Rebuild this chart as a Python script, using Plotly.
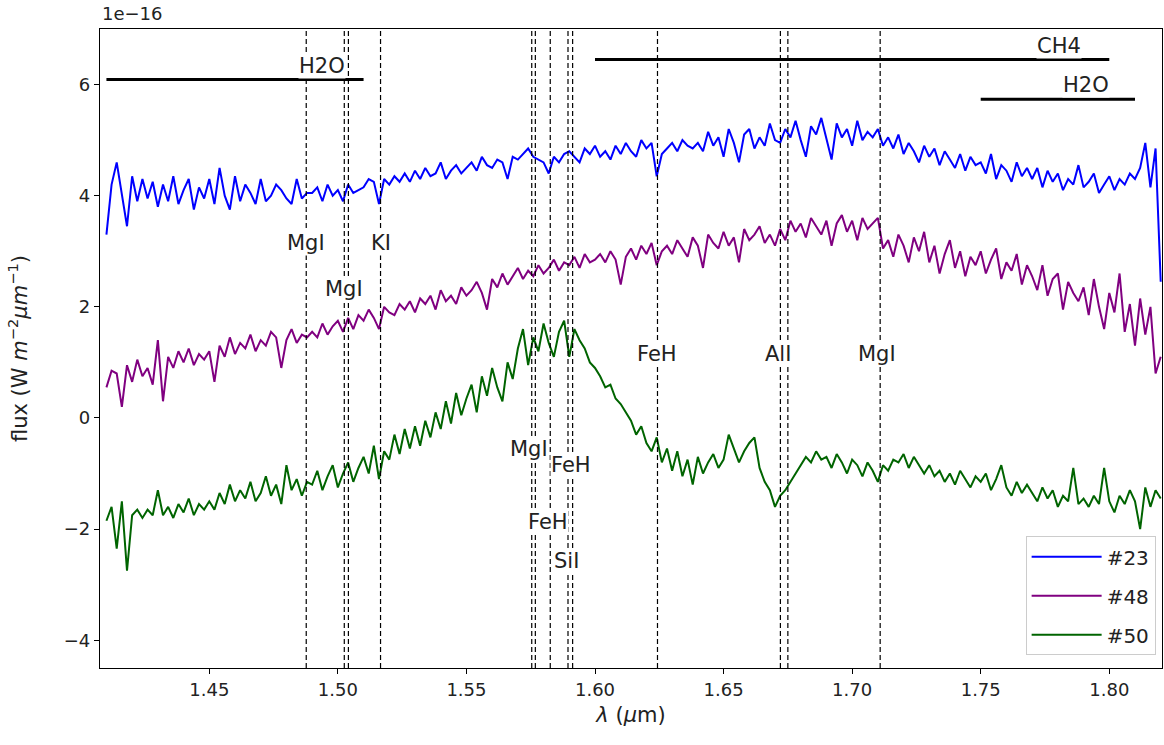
import numpy as np
import plotly.graph_objects as go

# wavelength grid (micron)
wavelength = np.round(np.linspace(1.410, 1.820, 206), 3)

# flux in units of 1e-16 W m^-2 um^-1
flux_23 = [
    3.3, 4.2, 4.6, 4.0, 3.45, 4.35, 3.9, 4.3, 3.95, 4.25,
    3.8, 4.2, 3.9, 4.35, 3.85, 4.1, 4.3, 3.75, 4.15, 3.95,
    4.3, 3.85, 4.5, 4.0, 3.75, 4.35, 3.9, 4.2, 4.05, 3.85,
    4.3, 3.9, 4.0, 4.2, 4.1, 3.95, 3.85, 4.3, 3.95, 4.05,
    4.05, 4.15, 3.9, 4.2, 4.0, 4.1, 3.9, 4.2, 4.05, 4.1,
    4.15, 4.3, 4.25, 3.85, 4.3, 4.2, 4.35, 4.25, 4.4, 4.25,
    4.45, 4.3, 4.5, 4.35, 4.4, 4.6, 4.3, 4.45, 4.55, 4.4,
    4.5, 4.6, 4.45, 4.7, 4.55, 4.5, 4.65, 4.6, 4.3, 4.7,
    4.65, 4.75, 4.85, 4.7, 4.65, 4.6, 4.4, 4.7, 4.6, 4.75,
    4.8, 4.7, 4.6, 4.85, 4.75, 4.9, 4.7, 4.8, 4.65, 4.9,
    4.75, 4.95, 4.8, 4.7, 5.0, 4.85, 4.95, 4.35, 4.75, 4.85,
    4.95, 4.8, 5.0, 4.9, 4.85, 4.95, 4.8, 5.15, 4.9, 5.05,
    4.7, 5.2, 4.95, 4.6, 5.1, 5.2, 4.85, 5.05, 4.9, 5.3,
    5.0, 4.95, 5.2, 5.05, 5.35, 5.0, 4.7, 5.25, 5.1, 5.4,
    5.0, 4.65, 5.3, 5.05, 5.2, 4.9, 5.35, 5.0, 5.15, 5.05,
    5.2, 4.9, 5.05, 4.85, 5.1, 4.75, 4.95, 4.8, 4.6, 4.9,
    4.7, 4.85, 4.55, 4.8, 4.65, 4.5, 4.75, 4.45, 4.7, 4.55,
    4.6, 4.4, 4.75, 4.3, 4.55, 4.45, 4.25, 4.6, 4.35, 4.5,
    4.3, 4.5, 4.15, 4.45, 4.25, 4.4, 4.1, 4.3, 4.2, 4.55,
    4.15, 4.25, 4.4, 4.05, 4.2, 4.35, 4.1, 4.3, 4.2, 4.4,
    4.3, 4.5, 4.95, 4.15, 4.85, 2.45,
]

flux_48 = [
    0.55, 0.85, 0.8, 0.2, 0.95, 0.65, 1.05, 0.75, 0.9, 0.6,
    1.4, 0.3, 1.1, 0.9, 1.2, 1.0, 1.25, 0.95, 1.15, 1.05,
    1.2, 0.65, 1.3, 1.1, 1.45, 1.15, 1.35, 1.25, 1.5, 1.2,
    1.4, 1.3, 1.55, 1.45, 0.9, 1.4, 1.6, 1.35, 1.5, 1.45,
    1.55, 1.45, 1.7, 1.5, 1.65, 1.75, 1.55, 1.8, 1.6, 1.85,
    1.75, 1.95, 1.8, 1.6, 2.0, 1.9, 1.85, 2.05, 1.95, 2.1,
    1.9, 2.15, 2.05, 2.2, 1.95, 2.3, 2.1, 2.2, 2.05, 2.35,
    2.2, 2.3, 2.45, 2.25, 1.95, 2.5, 2.35, 2.6, 2.4, 2.55,
    2.7, 2.5, 2.65, 2.55, 2.75, 2.6, 2.7, 2.85, 2.65, 2.8,
    2.75, 2.9, 2.7, 2.95, 2.8, 2.85, 2.95, 2.8, 3.0, 2.85,
    2.4, 2.9, 3.05, 2.85, 3.1, 2.95, 3.15, 2.75, 3.0, 3.1,
    2.95, 3.2, 3.05, 2.9, 3.25, 3.1, 2.7, 3.3, 3.15, 3.05,
    3.35, 3.1, 3.25, 2.8, 3.4, 3.2, 3.3, 3.45, 3.15, 3.3,
    3.1, 3.4, 3.2, 3.55, 3.35, 3.5, 3.25, 3.6, 3.45, 3.3,
    3.55, 3.1, 3.5, 3.65, 3.35, 3.55, 3.2, 3.6, 3.4, 3.5,
    3.6, 3.05, 3.2, 2.9, 3.3, 3.1, 2.8, 3.25, 3.0, 3.35,
    2.8, 3.1, 2.6, 2.95, 3.2, 2.7, 3.0, 2.55, 2.9, 2.75,
    3.0, 2.6, 2.85, 3.05, 2.5, 2.8, 2.65, 2.95, 2.4, 2.75,
    2.55, 2.3, 2.75, 2.2, 2.5, 2.6, 1.95, 2.45, 2.25, 2.1,
    2.35, 1.85, 2.5, 2.0, 1.6, 2.25, 1.9, 2.6, 1.55, 2.05,
    1.3, 2.15, 1.5, 2.0, 0.8, 1.1,
]

flux_50 = [
    -1.85, -1.6, -2.35, -1.5, -2.75, -1.75, -1.65, -1.8, -1.65, -1.75,
    -1.3, -1.75, -1.6, -1.8, -1.55, -1.7, -1.45, -1.75, -1.55, -1.65,
    -1.5, -1.65, -1.35, -1.55, -1.2, -1.5, -1.3, -1.45, -1.15, -1.5,
    -1.35, -1.05, -1.4, -1.2, -1.55, -0.85, -1.3, -1.1, -1.4, -1.15,
    -1.2, -0.95, -1.3, -1.05, -0.85, -1.25, -1.0, -0.8, -1.15, -0.9,
    -0.7, -1.0, -0.5, -1.1, -0.6, -0.75, -0.3, -0.65, -0.2, -0.55,
    -0.15, -0.5, -0.05, -0.35, 0.1, -0.2, 0.3, -0.1, 0.45, 0.05,
    0.35, 0.6, 0.1, 0.75, 0.4, 0.9, 0.55, 0.3, 1.0, 0.7,
    1.25, 1.6, 0.95, 1.45, 1.2, 1.7, 1.35, 1.1, 1.55, 1.75,
    1.1, 1.6, 1.4, 1.25, 1.0, 0.9, 0.75, 0.55, 0.6, 0.35,
    0.25, 0.1, -0.05, -0.3, -0.15, -0.45, -0.6, -0.35, -0.8, -0.55,
    -0.95, -0.6, -1.05, -0.75, -1.2, -0.7, -1.0, -0.8, -0.65, -0.9,
    -0.75, -0.3, -0.55, -0.8, -0.6, -0.45, -0.35, -0.9, -1.15, -1.3,
    -1.6, -1.4, -1.3, -1.15, -1.0, -0.85, -0.7, -0.8, -0.6, -0.75,
    -0.7, -0.9, -0.65, -0.8, -1.0, -0.75, -0.85, -1.05, -0.8, -0.95,
    -1.15, -0.85, -0.95, -0.75, -0.8, -0.65, -0.9, -0.7, -0.85, -1.0,
    -0.85, -1.05, -0.95, -1.15, -1.0, -1.2, -0.95, -1.1, -1.25, -1.05,
    -1.15, -1.0, -1.3, -1.1, -0.85, -1.25, -1.4, -1.15, -1.35, -1.2,
    -1.35, -1.5, -1.25, -1.45, -1.3, -1.6, -1.4, -1.5, -0.9, -1.55,
    -1.45, -1.6, -1.4, -1.55, -0.9, -1.5, -1.7, -1.4, -1.55, -1.3,
    -1.5, -2.0, -1.25, -1.6, -1.3, -1.45,
]

series_names = ["#23", "#48", "#50"]
series_colors = ["blue", "purple", "darkgreen"]

# spectral line markers
line_wavelengths = [1.4877, 1.5025, 1.5041, 1.5166, 1.5754, 1.5768, 1.5826,
                    1.5895, 1.5913, 1.6243, 1.6721, 1.6750, 1.7109]
label_names = ["MgI", "MgI", "KI", "MgI", "FeH", "FeH", "SiI", "FeH", "AlI", "MgI"]
label_x = [1.4877, 1.5025, 1.5166, 1.5745, 1.5908, 1.5819, 1.5889, 1.6243, 1.6713, 1.7098]
label_y = [3.15, 2.32, 3.15, -0.56, -0.85, -1.87, -2.58, 1.15, 1.15, 1.15]

# molecular bands
band_names = ["H2O", "CH4", "H2O"]
band_start = [1.41, 1.60, 1.75]
band_end = [1.51, 1.80, 1.81]
band_level = [6.09, 6.45, 5.735]
band_label_x = [1.494, 1.7806, 1.791]

FONT = "DejaVu Sans"
fig = go.Figure()

for name, col, ys in zip(series_names, series_colors, [flux_23, flux_48, flux_50]):
    fig.add_trace(go.Scatter(x=wavelength, y=ys, mode="lines", name=name,
                             legendgroup=name,
                             line=dict(color=col, width=2)))

for w in line_wavelengths:
    fig.add_shape(type="line", xref="x", yref="paper", x0=w, x1=w, y0=0, y1=1,
                  line=dict(color="black", width=1.2, dash="5px,3px"), layer="above")

for n, x, y in zip(label_names, label_x, label_y):
    fig.add_annotation(x=x, y=y, xref="x", yref="y", text=n, showarrow=False,
                       bgcolor="white", borderpad=0,
                       font=dict(family=FONT, size=21, color="#222"))

for n, s, e, lv, lx in zip(band_names, band_start, band_end, band_level, band_label_x):
    fig.add_shape(type="line", xref="x", yref="y", x0=s, x1=e, y0=lv, y1=lv,
                  line=dict(color="black", width=3), layer="above")
    fig.add_annotation(x=lx, y=lv, xref="x", yref="y", text=n, showarrow=False,
                       yanchor="bottom", yshift=1, bgcolor="white", borderpad=0,
                       font=dict(family=FONT, size=21, color="#222"))

fig.add_annotation(x=0, y=1, xref="paper", yref="paper", xanchor="left", yanchor="bottom",
                   yshift=3, text="1e−16", showarrow=False,
                   font=dict(family=FONT, size=18, color="#222"))

fig.update_layout(
    width=1164, height=745,
    margin=dict(l=100, r=2, t=29, b=77),
    plot_bgcolor="white", paper_bgcolor="white",
    font=dict(family=FONT, size=18, color="#222"),
    showlegend=True,
    legend=dict(x=0.994, y=0.02, xanchor="right", yanchor="bottom",
                bgcolor="white", bordercolor="#cccccc", borderwidth=1,
                itemwidth=70,
                font=dict(family=FONT, size=20), tracegroupgap=10),
    xaxis=dict(range=[1.4075, 1.8205], tickvals=[1.45, 1.50, 1.55, 1.60, 1.65, 1.70, 1.75, 1.80],
               tickformat=".2f", showgrid=False, zeroline=False,
               showline=True, linecolor="black", linewidth=1.2, mirror=True,
               ticks="outside", ticklen=5, tickcolor="black",
               tickfont=dict(size=18),
               title=dict(text="<i>λ</i> (<i>μ</i>m)", font=dict(size=21), standoff=8)),
    yaxis=dict(range=[-4.5, 7.0], tickvals=[-4, -2, 0, 2, 4, 6],
               showgrid=False, zeroline=False,
               showline=True, linecolor="black", linewidth=1.2, mirror=True,
               ticks="outside", ticklen=5, tickcolor="black",
               tickfont=dict(size=18),
               title=dict(text="flux (W <i>m</i><sup>−2</sup><i>μm</i><sup>−1</sup>)",
                          font=dict(size=21), standoff=30)),
)

fig.write_html("out.html", config={"displayModeBar": False},
               post_script="document.body.style.margin='0px';")
